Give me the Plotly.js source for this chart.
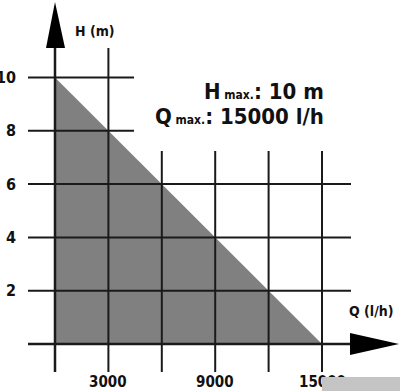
<!DOCTYPE html>
<html><head><meta charset="utf-8">
<script src="https://cdn.plot.ly/plotly-3.0.1.min.js"></script>
<style>html,body{margin:0;padding:0;background:#fff}</style>
</head><body>
<div id="chart" style="width:400px;height:391px"></div>
<script>
// ---- data ----
const flowGrid = [3000, 6000, 9000, 12000, 15000];      // Q (l/h) grid
const headGrid = [2, 4, 6, 8, 10];                      // H (m) grid
const flowLabelVals = [3000, 9000, 15000];
const flowLabels = ['3000', '9000', '15000'];
const headLabels = ['2', '4', '6', '8', '10'];
const curveQ = [0, 15000, 0];
const curveH = [10, 0, 0];
const hMaxText = "H<span style='font-size:12px'> max.</span>: 10 m";
const qMaxText = "Q<span style='font-size:12px'> max.</span>: 15000 l/h";

// ---- scale helpers (pixel layout) ----
const W = 400, H = 391;
const x0px = 55, y0px = 344;
const kx = 3000 / 53.4;    // data per px (x)
const ky = 2 / 53.3;       // data per px (y)
const xr = [-x0px * kx, (W - x0px) * kx];
const yr = [-(H - y0px) * ky, y0px * ky];
const X = px => (px - x0px) * kx;
const Y = py => (y0px - py) * ky;

const FONT = '"DejaVu Sans Condensed", "Liberation Sans Narrow", sans-serif';
const DARK = '#1a1a1a';

const shapes = [];
const line = (xa, ya, xb, yb, w) => shapes.push({type: 'line', xref: 'x', yref: 'y',
  x0: xa, y0: ya, x1: xb, y1: yb, line: {color: DARK, width: w || 2}});

// horizontal grid
headGrid.forEach(h => {
  const right = h >= 8 ? X(134) : X(351);
  line(X(28), h, right, h);
});
// vertical grid
flowGrid.forEach(q => {
  const top = q === 3000 ? Y(48) : Y(151);
  line(q, top, q, Y(372));
});
// axes
line(X(28), 0, X(352), 0, 2.5);
line(0, Y(372), 0, Y(47), 2.5);
// arrows
shapes.push({type: 'path', xref: 'x', yref: 'y', fillcolor: '#000', line: {width: 0},
  path: `M${X(55)},${Y(2)} L${X(46)},${Y(48)} L${X(65)},${Y(48)} Z`});
shapes.push({type: 'path', xref: 'x', yref: 'y', fillcolor: '#000', line: {width: 0},
  path: `M${X(399)},${Y(344)} L${X(350)},${Y(333)} L${X(350)},${Y(355)} Z`});

const ann = [];
headGrid.forEach((h, i) => ann.push({x: X(18), y: h, xref: 'x', yref: 'y', text: headLabels[i],
  showarrow: false, xanchor: 'right', yanchor: 'middle', font: {family: FONT, size: 16, color: '#111', weight: 'bold'}}));
flowLabelVals.forEach((q, i) => ann.push({x: q, y: Y(382), xref: 'x', yref: 'y', text: flowLabels[i],
  showarrow: false, xanchor: 'center', yanchor: 'middle', font: {family: FONT, size: 15, color: '#111', weight: 'bold'}}));
ann.push({x: X(73), y: Y(31), xref: 'x', yref: 'y', text: 'H (m)', showarrow: false,
  xanchor: 'left', yanchor: 'middle', font: {family: FONT, size: 14, color: '#111', weight: 'bold'}});
ann.push({x: X(395), y: Y(311), xref: 'x', yref: 'y', text: 'Q (l/h)', showarrow: false,
  xanchor: 'right', yanchor: 'middle', font: {family: FONT, size: 14, color: '#111', weight: 'bold'}});
ann.push({x: X(326), y: Y(91), xref: 'x', yref: 'y', text: hMaxText, showarrow: false,
  xanchor: 'right', yanchor: 'middle', font: {family: FONT, size: 22, color: '#111', weight: 'bold'}});
ann.push({x: X(326), y: Y(116), xref: 'x', yref: 'y', text: qMaxText, showarrow: false,
  xanchor: 'right', yanchor: 'middle', font: {family: FONT, size: 22, color: '#111', weight: 'bold'}});
// watermark box covering the lower-right corner
ann.push({x: 1, y: 0, xref: 'paper', yref: 'paper', xanchor: 'right', yanchor: 'bottom',
  text: ' ', showarrow: false, width: 78, height: 14, bgcolor: '#c4c4c4', borderpad: 0, borderwidth: 0,
  font: {size: 8}});

const traces = [{
  x: curveQ, y: curveH, type: 'scatter', mode: 'lines', fill: 'toself',
  fillcolor: '#808080', line: {width: 0, color: '#808080'}, hoverinfo: 'skip'
}];

Plotly.newPlot('chart', traces, {
  width: W, height: H, margin: {l: 0, r: 0, t: 0, b: 0},
  paper_bgcolor: '#fff', plot_bgcolor: '#fff', showlegend: false,
  xaxis: {range: xr, visible: false, fixedrange: true},
  yaxis: {range: yr, visible: false, fixedrange: true},
  shapes: shapes, annotations: ann
}, {staticPlot: true});
</script>
</body></html>
